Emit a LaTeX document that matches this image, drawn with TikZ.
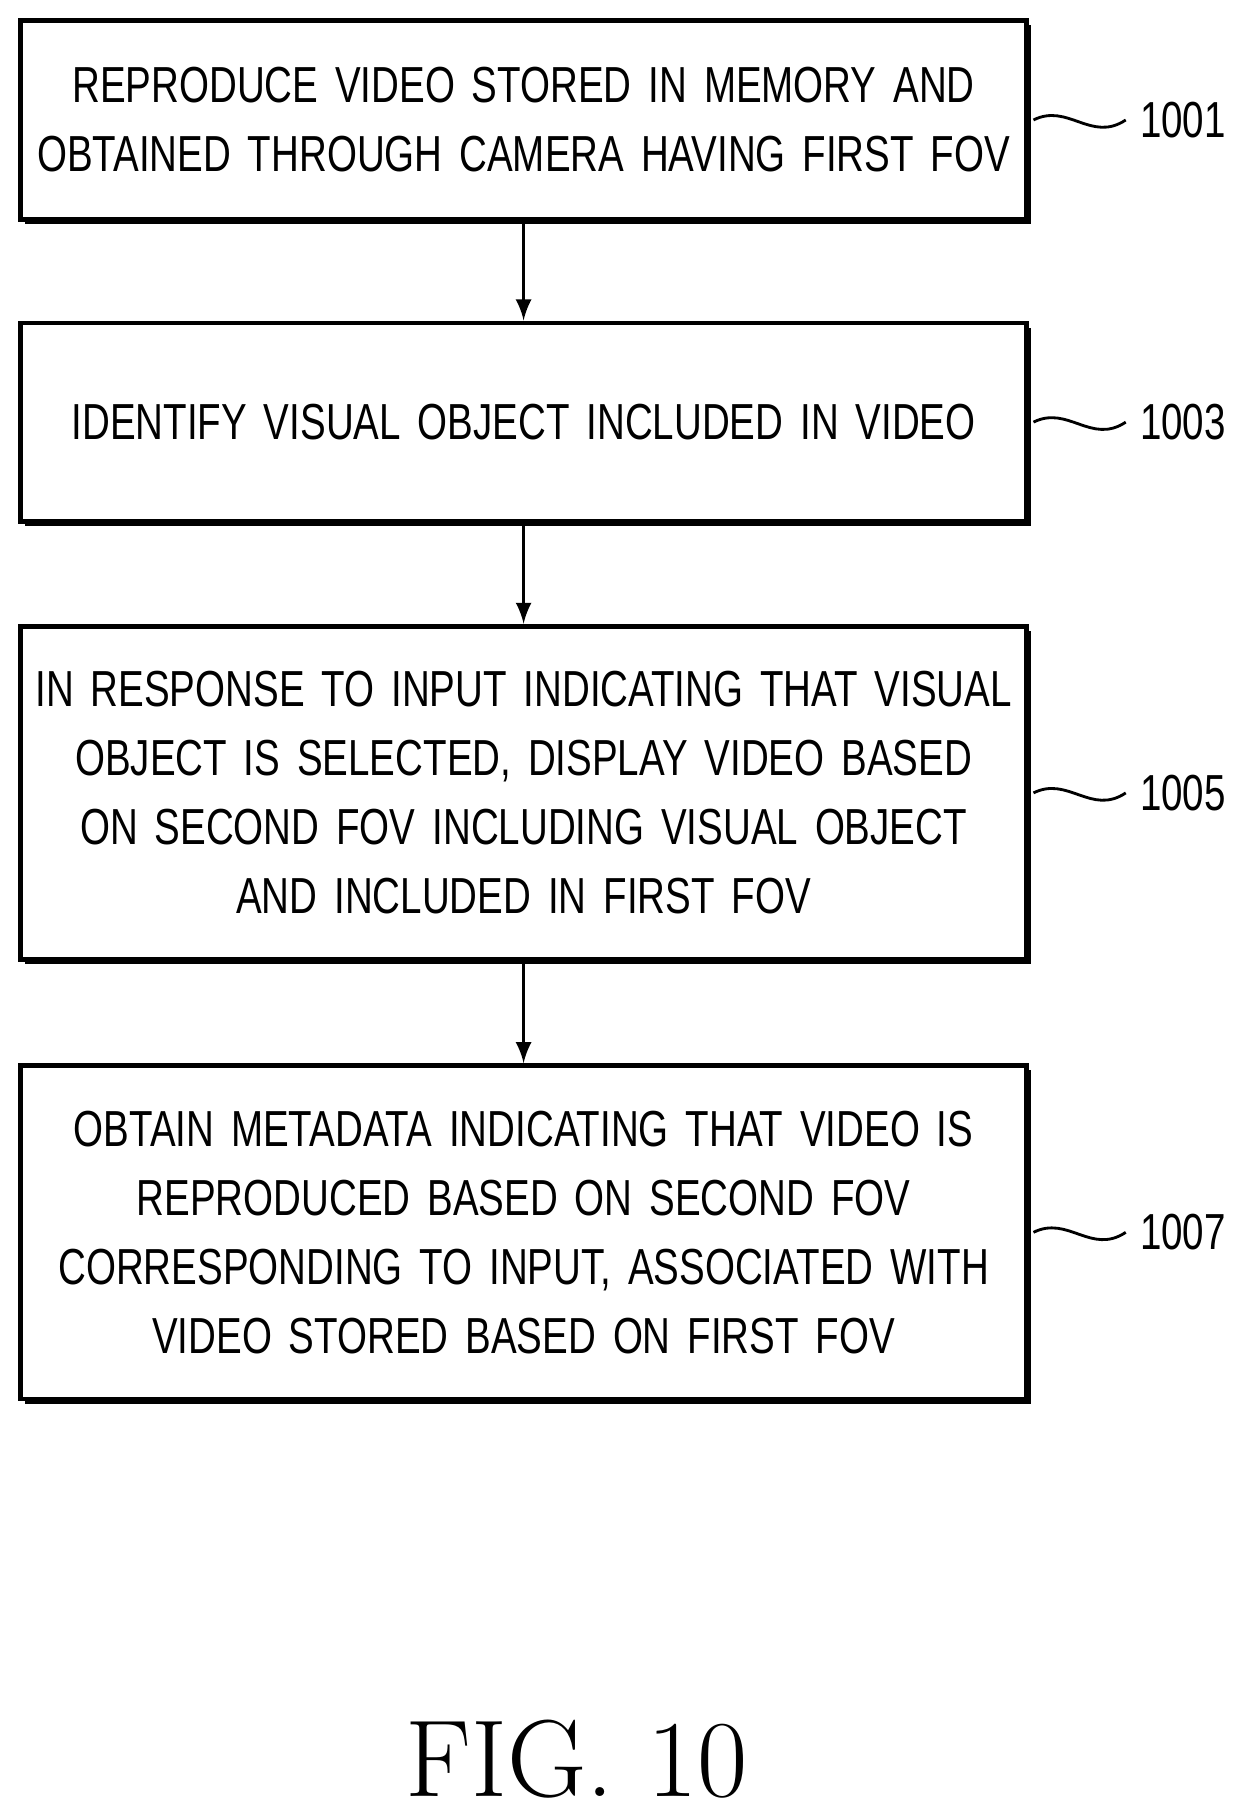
\documentclass[tikz,border=0pt]{standalone}
\usepackage{fontspec}
\setsansfont[FakeStretch=0.76]{Liberation Sans}
\usepackage{tikz}
\usetikzlibrary{positioning}
\tikzset{
  stepbox/.style={draw, line width=1.2pt, fill=white, text width=8.72cm, align=center,
    font=\sffamily\fontsize{12.5}{17}\selectfont, inner sep=0pt},
  arr/.style={->, >=latex, line width=0.8pt},
  tag/.style={font=\sffamily\fontsize{12.5}{15}\selectfont, anchor=west}
}
\begin{document}
\begin{tikzpicture}
\useasboundingbox (0,0) rectangle (10.85,-15.72);

% shadows
\fill (0.22,-0.22) rectangle (8.94,-1.94);
\fill (0.22,-2.84) rectangle (8.94,-4.56);
\fill (0.22,-5.47) rectangle (8.94,-8.36);
\fill (0.22,-9.28) rectangle (8.94,-12.17);

\node [stepbox, minimum height=1.72cm] (s1) at (4.54,-1.04) {REPRODUCE VIDEO STORED IN MEMORY AND\\OBTAINED THROUGH CAMERA HAVING FIRST FOV};
\node [stepbox, minimum height=1.72cm] (s2) at (4.54,-3.66) {IDENTIFY VISUAL OBJECT INCLUDED IN VIDEO};
\node [stepbox, minimum height=2.89cm] (s3) at (4.54,-6.875) {IN RESPONSE TO INPUT INDICATING THAT VISUAL\\OBJECT IS SELECTED, DISPLAY VIDEO BASED\\ON SECOND FOV INCLUDING VISUAL OBJECT\\AND INCLUDED IN FIRST FOV};
\node [stepbox, minimum height=2.89cm] (s4) at (4.54,-10.685) {OBTAIN METADATA INDICATING THAT VIDEO IS\\REPRODUCED BASED ON SECOND FOV\\CORRESPONDING TO INPUT, ASSOCIATED WITH\\VIDEO STORED BASED ON FIRST FOV};

\draw [arr] (s1.south) -- (s2.north);
\draw [arr] (s2.south) -- (s3.north);
\draw [arr] (s3.south) -- (s4.north);

% reference numbers
\foreach \s/\n in {s1/1001, s2/1003, s3/1005, s4/1007}{
  \coordinate (c\n) at ([xshift=0.04cm]\s.east);
  \node [tag] (t\n) at ([xshift=0.84cm]\s.east) {\n};
  \draw [line width=0.7pt] (c\n) .. controls +(0.3,0.15) and +(-0.3,-0.2) .. (t\n.west);
}

\node [font=\fontsize{27}{30}\selectfont] (fig) at (5.0,-15.25) {FIG. 10};
\end{tikzpicture}
\end{document}
